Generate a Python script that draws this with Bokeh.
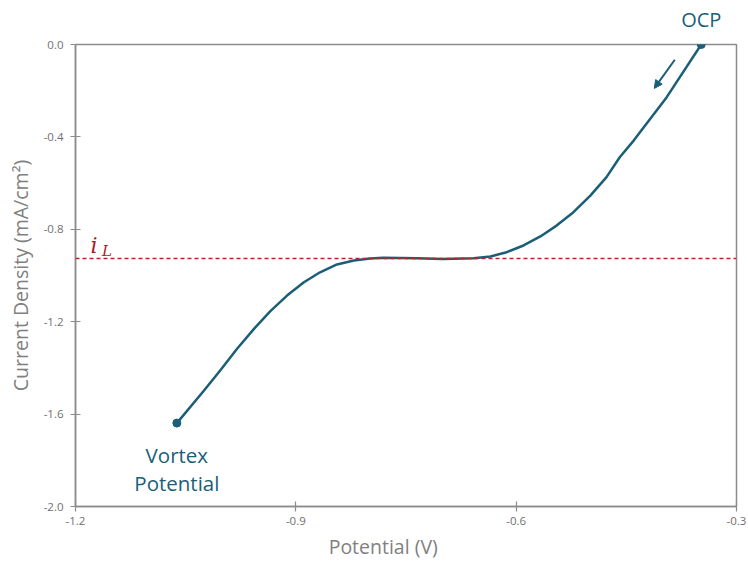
from bokeh.plotting import figure
from bokeh.models import (Span, Arrow, NormalHead, FixedTicker, PrintfTickFormatter,
                          Range1d, LinearAxis)
from bokeh.core.properties import value
from bokeh.embed import file_html
from bokeh.resources import INLINE

# Data (cathodic sweep from OCP to vortex potential)
potential = [-0.348, -0.395, -0.440, -0.459, -0.477, -0.499, -0.522, -0.545, -0.567,
             -0.590, -0.613, -0.635, -0.658, -0.700, -0.735, -0.781, -0.799, -0.821,
             -0.844, -0.867, -0.889, -0.912, -0.935, -0.957, -0.980, -1.003, -1.025, -1.062]
current = [0.0, -0.228, -0.416, -0.488, -0.574, -0.654, -0.726, -0.784, -0.831,
           -0.870, -0.899, -0.918, -0.925, -0.929, -0.925, -0.923, -0.926, -0.935,
           -0.952, -0.986, -1.029, -1.087, -1.155, -1.231, -1.317, -1.411, -1.498, -1.639]
limiting_current = -0.926
x_ticks = [-1.2, -0.9, -0.6, -0.3]
y_ticks = [0.0, -0.4, -0.8, -1.2, -1.6, -2.0]
x_title = "Potential (V)"
y_title = "Current Density (mA/cm²)"
x_title_at = -0.781

TEAL = "#1b5e78"
RED = "#c0222b"
GRAY = "#808080"
FONT = "Open Sans"

p = figure(width=748, height=563, output_backend="svg", toolbar_location=None,
           x_range=Range1d(-1.2, -0.3), y_range=Range1d(-2.0, 0.0),
           min_border_left=75, min_border_right=12, min_border_top=44, min_border_bottom=57)
p.background_fill_color = "white"
p.border_fill_color = "white"
p.outline_line_color = "#8c8c8c"
p.outline_line_width = 1.5
p.xgrid.visible = False
p.ygrid.visible = False

for ax in (p.xaxis[0], p.yaxis[0]):
    ax.axis_line_color = "#8c8c8c"
    ax.axis_line_width = 1.5
    ax.major_tick_line_color = "#8c8c8c"
    ax.major_tick_line_width = 1.2
    ax.major_tick_in = 5
    ax.major_tick_out = 5
    ax.minor_tick_line_color = None
    ax.major_label_text_font = FONT
    ax.major_label_text_font_size = "11.5px"
    ax.major_label_text_color = "#707070"
    ax.formatter = PrintfTickFormatter(format="%.1f")

p.xaxis.ticker = FixedTicker(ticks=x_ticks)
p.yaxis.ticker = FixedTicker(ticks=y_ticks)
p.xaxis.major_label_standoff = 5
p.yaxis.major_label_standoff = 7

p.yaxis.axis_label = y_title
p.yaxis.axis_label_text_font = FONT
p.yaxis.axis_label_text_font_size = "19.5px"
p.yaxis.axis_label_text_font_style = "normal"
p.yaxis.axis_label_text_color = GRAY
p.yaxis.axis_label_standoff = 7

# x-axis title, placed like the reference (slightly left of centre)
xt = LinearAxis(ticker=FixedTicker(ticks=[x_title_at]),
                major_label_overrides={x_title_at: x_title},
                axis_line_color=None, major_tick_line_color=None, minor_tick_line_color=None,
                major_tick_out=0, major_tick_in=0, major_label_standoff=5,
                major_label_text_font=FONT, major_label_text_font_size="19.5px",
                major_label_text_color=GRAY)
p.add_layout(xt, "below")

# OCP label above the frame
ocp = LinearAxis(ticker=FixedTicker(ticks=[potential[0]]),
                 major_label_overrides={potential[0]: "OCP"},
                 axis_line_color=None, major_tick_line_color=None, minor_tick_line_color=None,
                 major_tick_out=0, major_tick_in=0, major_label_standoff=12,
                 major_label_text_font=FONT, major_label_text_font_size="20px",
                 major_label_text_color=TEAL)
p.add_layout(ocp, "above")

# limiting current dashed line
p.add_layout(Span(location=limiting_current, dimension="width", line_color=RED,
                  line_width=1.5, line_dash="4 3"))
p.text(x=[-1.1796], y=[-0.872], text=["i"], text_font=value("DejaVu Serif"),
       text_font_style="italic", text_font_size="22px", text_color="#a81e25",
       text_baseline="alphabetic")
p.text(x=[-1.1640], y=[-0.894], text=["L"], text_font=value("DejaVu Serif"),
       text_font_style="italic", text_font_size="15px", text_color="#a81e25",
       text_baseline="alphabetic")

# curve
p.line(potential, current, line_color=TEAL, line_width=2.5)
p.scatter([potential[0], potential[-1]], [current[0], current[-1]], size=8,
          fill_color=TEAL, line_color=TEAL)

p.text(x=[potential[-1], potential[-1]], y=[-1.779, -1.900], text=["Vortex", "Potential"],
       text_align="center", text_baseline="alphabetic", text_font=value(FONT),
       text_font_size="20.5px", text_color=TEAL)

p.add_layout(Arrow(end=NormalHead(size=8, fill_color=TEAL, line_color=TEAL),
                   x_start=-0.384, y_start=-0.066, x_end=-0.412, y_end=-0.190,
                   line_color=TEAL, line_width=2))

open("out.html", "w").write(file_html(p, INLINE))
